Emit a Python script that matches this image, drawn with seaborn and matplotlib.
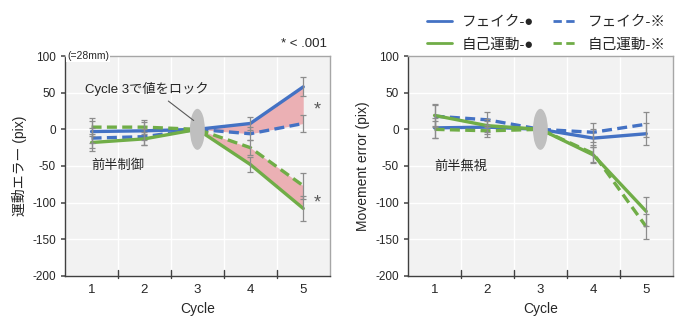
import numpy as np
import pandas as pd
import matplotlib
matplotlib.use("Agg")
import matplotlib.pyplot as plt
from matplotlib.patches import Ellipse
from matplotlib.lines import Line2D
import seaborn as sns

cycles = [1, 2, 3, 4, 5]
series_names = ["フェイク-●", "フェイク-※", "自己運動-●", "自己運動-※"]

# 前半制御 (left panel)
ctrl_fake_dot = [-3, -2, 0, 8, 58]
ctrl_fake_ref = [-12, -10, 0, -6, 8]
ctrl_self_dot = [-18, -13, 0, -48, -108]
ctrl_self_ref = [3, 3, 0, -25, -77]
ctrl_err_fake_dot = [15, 12, 0, 9, 13]
ctrl_err_fake_ref = [14, 11, 0, 9, 12]
ctrl_err_self_dot = [12, 9, 0, 10, 17]
ctrl_err_self_ref = [12, 10, 0, 10, 18]

# 前半無視 (right panel)
ign_fake_dot = [2, 3, 0, -12, -6]
ign_fake_ref = [18, 13, 0, -4, 7]
ign_self_dot = [19, 5, 0, -35, -112]
ign_self_ref = [0, -2, 0, -33, -133]
ign_err_fake_dot = [14, 9, 0, 12, 15]
ign_err_fake_ref = [15, 10, 0, 13, 17]
ign_err_self_dot = [15, 9, 0, 11, 20]
ign_err_self_ref = [12, 8, 0, 12, 17]

y_ticks = [100, 50, 0, -50, -100, -150, -200]

BLUE = "#4472C4"
GREEN = "#70AD47"
PINK = "#EBB0B4"
colors = {series_names[0]: BLUE, series_names[1]: BLUE,
          series_names[2]: GREEN, series_names[3]: GREEN}
dashes = {series_names[0]: "", series_names[1]: (3, 1.6),
          series_names[2]: "", series_names[3]: (3, 1.6)}

sns.set_theme(style="white")
plt.rcParams["font.family"] = ["Liberation Sans", "Noto Sans CJK JP", "DejaVu Sans"]
plt.rcParams["axes.unicode_minus"] = False


def long_frame(vals, errs):
    rows = []
    for name, v, e in zip(series_names, vals, errs):
        for i, (c, y, s) in enumerate(zip(cycles, v, e)):
            rows.append({"pos": i, "cycle": c, "value": y, "err": s, "series": name})
    return pd.DataFrame(rows)


def draw_panel(ax, df, ylabel, note):
    ax.set_facecolor("#F2F2F2")
    for y in y_ticks:
        ax.axhline(y, color="white", lw=1.0, zorder=0)
    for b in np.arange(0.5, 4.5, 1.0):
        ax.axvline(b, color="white", lw=1.0, zorder=0)

    sns.lineplot(data=df, x="pos", y="value", hue="series", style="series",
                 palette=colors, dashes=dashes, linewidth=2.4, ax=ax,
                 legend=False, zorder=3, sort=False, estimator=None)

    for name in series_names:
        d = df[df.series == name]
        d = d[d.err > 0]
        ax.errorbar(d["pos"], d["value"], yerr=d["err"], fmt="none",
                    ecolor="#8C8C8C", elinewidth=0.9, capsize=2.5,
                    capthick=0.9, zorder=4)

    ax.add_patch(Ellipse((2, 0), 0.28, 56, facecolor="#BFBFBF",
                         edgecolor="none", zorder=5))

    ax.set_xlim(-0.5, 4.5)
    ax.set_ylim(-200, 100)
    ax.set_yticks(y_ticks)
    ax.set_xticks(range(5))
    ax.set_xticklabels([str(c) for c in cycles])
    ax.tick_params(axis="x", length=0, labelsize=9.5, pad=6)
    ax.tick_params(axis="y", length=3, labelsize=8.5, left=True, color="#595959")
    for b in np.arange(0.5, 4.5, 1.0):
        ax.plot([b, b], [-203, -192], color="#404040", lw=1.0, zorder=6,
                clip_on=False)
    ax.set_xlabel("Cycle", fontsize=10, labelpad=4)
    ax.set_ylabel(ylabel, fontsize=10, labelpad=4)
    for side in ["left", "bottom"]:
        ax.spines[side].set_color("#404040")
        ax.spines[side].set_linewidth(1.0)
    for side in ["top", "right"]:
        ax.spines[side].set_color("#A6A6A6")
        ax.spines[side].set_linewidth(1.0)
    ax.text(0.0, -50, note, fontsize=9.5, ha="left", va="center", zorder=7)


fig = plt.figure(figsize=(7.0, 3.28), dpi=100)
ax1 = fig.add_axes([0.093, 0.159, 0.378, 0.67])
ax2 = fig.add_axes([0.583, 0.159, 0.378, 0.67])

df1 = long_frame([ctrl_fake_dot, ctrl_fake_ref, ctrl_self_dot, ctrl_self_ref],
                 [ctrl_err_fake_dot, ctrl_err_fake_ref, ctrl_err_self_dot, ctrl_err_self_ref])
df2 = long_frame([ign_fake_dot, ign_fake_ref, ign_self_dot, ign_self_ref],
                 [ign_err_fake_dot, ign_err_fake_ref, ign_err_self_dot, ign_err_self_ref])

draw_panel(ax1, df1, "運動エラー (pix)", "前半制御")
draw_panel(ax2, df2, "Movement error (pix)", "前半無視")

# shaded gap between the paired conditions after the lock point
xs = np.arange(2, 5)
ax1.fill_between(xs, np.array(ctrl_fake_dot[2:]), np.array(ctrl_fake_ref[2:]),
                 color=PINK, lw=0, zorder=2)
ax1.fill_between(xs, np.array(ctrl_self_dot[2:]), np.array(ctrl_self_ref[2:]),
                 color=PINK, lw=0, zorder=2)

ax1.annotate("Cycle 3で値をロック", xy=(1.93, 12), xytext=(-0.12, 55),
             fontsize=9.5, ha="left", va="center",
             arrowprops=dict(arrowstyle="-", color="#595959", lw=0.8,
                             shrinkA=2, shrinkB=0,
                             relpos=(0.62, 0.0)), zorder=7)
ax1.text(4.27, 27, "*", fontsize=13, ha="center", va="center", color="#595959")
ax1.text(4.27, -100, "*", fontsize=13, ha="center", va="center", color="#595959")
ax1.text(4.45, 117, "* < .001", fontsize=9.5, ha="right", va="center",
         clip_on=False)
ax1.text(-0.46, 100, "(=28mm)", fontsize=7.5, ha="left", va="center",
         clip_on=False, zorder=8,
         bbox=dict(facecolor="white", edgecolor="none", pad=0.6))

handles = [Line2D([], [], color=colors[n], lw=2.0,
                  linestyle="-" if dashes[n] == "" else (0, dashes[n]))
           for n in series_names]
order = [0, 2, 1, 3]
fig.legend([handles[i] for i in order], [series_names[i] for i in order],
           ncol=2, loc="upper right", bbox_to_anchor=(0.97, 0.995),
           frameon=False, fontsize=10.5, handlelength=1.7, columnspacing=1.3,
           handletextpad=0.7, labelspacing=0.6)

fig.savefig("out.png", dpi=100)
